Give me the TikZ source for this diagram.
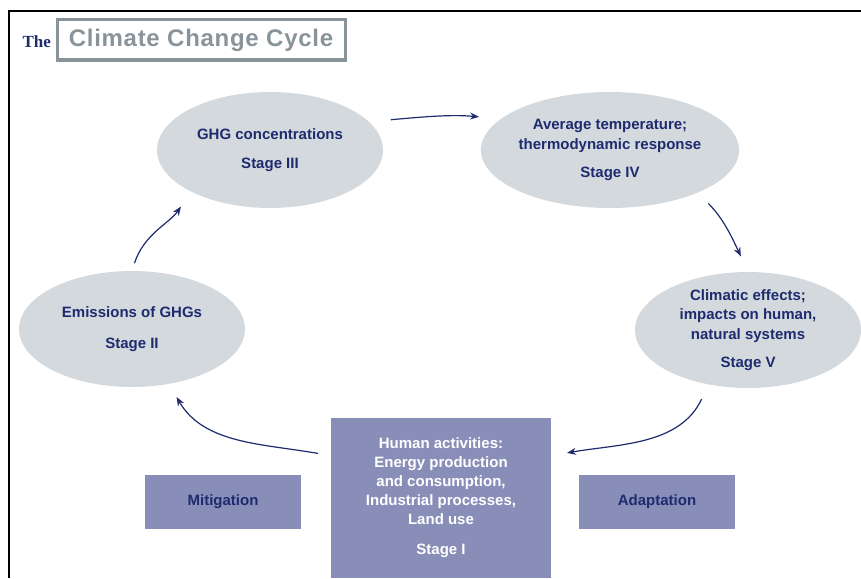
\documentclass[tikz,border=0pt]{standalone}
\usepackage{fontspec}
\setmainfont{Liberation Sans}
\newfontfamily\thefont{Liberation Serif}
\newfontfamily\titlefont[LetterSpace=3]{Liberation Sans}
\usepackage{xcolor}
\usetikzlibrary{shapes.geometric, arrows.meta, positioning}

\definecolor{navy}{HTML}{1E2B6E}
\definecolor{ovalgrey}{HTML}{D4D9DE}
\definecolor{boxblue}{HTML}{888EB8}
\definecolor{titlegrey}{HTML}{89949A}

\begin{document}
\begin{tikzpicture}[x=1pt, y=-1pt,
    stage/.style={ellipse, fill=ovalgrey, minimum width=226pt, minimum height=116pt, inner sep=0pt, align=center, text=navy, font=\bfseries\fontsize{15}{19.5}\selectfont},
    activity/.style={rectangle, fill=boxblue, minimum width=220pt, minimum height=160pt, inner sep=0pt, align=center, text=white, font=\bfseries\fontsize{15}{19}\selectfont},
    response/.style={rectangle, fill=boxblue, minimum width=156pt, minimum height=54pt, inner sep=0pt, text=navy, font=\bfseries\fontsize{15}{19}\selectfont},
    arrow/.style={draw=navy, line width=1.2pt, -{Stealth[length=9pt, width=7pt]}}]

    \useasboundingbox (0,0) rectangle (861,578);
    \draw [line width=1.6pt] (9,578) |- (861,11);

    \node [anchor=base west, text=navy, font=\thefont\bfseries\fontsize{17}{17}\selectfont] (the) at (19,48) {The};
    \node [draw=titlegrey, line width=3pt, text=titlegrey, minimum width=288pt, minimum height=40pt, inner sep=0pt, font=\titlefont\bfseries\fontsize{24}{24}\selectfont] (title) at (201,40) {Climate Change Cycle};

    \node [activity] (s1) at (441,498) {Human activities:\\Energy production\\and consumption,\\Industrial processes,\\Land use\\[11pt]Stage I};
    \node [stage] (s2) at (132,329) {Emissions of GHGs\\[11pt]Stage II};
    \node [stage] (s3) at (270,150) {GHG concentrations\\[10pt]Stage III};
    \node [stage] (s4) at (610,150) {Average temperature;\\thermodynamic response\\[9pt]Stage IV};
    \node [stage] (s5) at (748,330) {Climatic effects;\\impacts on human,\\natural systems\\[9pt]Stage V};
    \node [response] (mitigation) at (223,502) {Mitigation};
    \node [response] (adaptation) at (657,502) {Adaptation};

    \draw [arrow, shorten <=22pt, shorten >=22pt] (s3.16) to[out=5, in=175] (s4.164);
    \draw [arrow, shorten <=15pt, shorten >=17pt] (s4.-26) to[out=-45, in=115] (s5.north);
    \draw [arrow, shorten <=16pt, shorten >=16pt] (s5.-126) to[out=-115, in=10] (s1.21);
    \draw [arrow, shorten <=13pt, shorten >=15pt] (s1.159) to[out=170, in=-60] (s2.-56);
    \draw [arrow, shorten <=8pt, shorten >=18pt] (s2.north) to[out=72, in=-125] (s3.-152);
\end{tikzpicture}
\end{document}
